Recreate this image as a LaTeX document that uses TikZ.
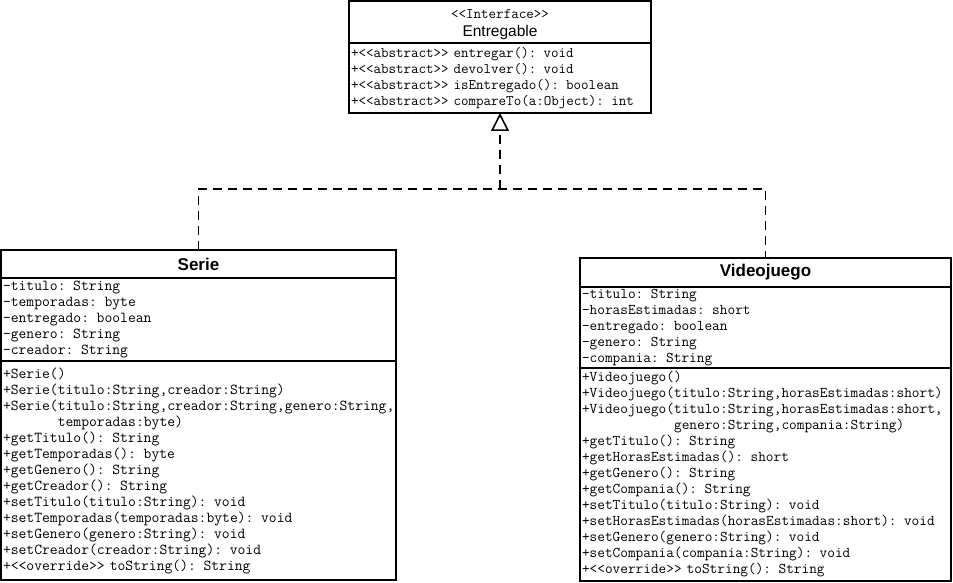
\documentclass[tikz,border=0pt]{standalone}
\usepackage{fontspec}
\setmainfont{Liberation Sans}
\usetikzlibrary{arrows.meta,positioning}

\begin{document}
\begin{tikzpicture}[x=1pt,y=-1pt,
  box/.style={draw,line width=1.6pt,outer sep=0pt,inner xsep=2pt,inner ysep=0pt,anchor=north west},
  title/.style={box,align=center,font=\fontsize{17}{20}\selectfont\bfseries},
  members/.style={box,align=left,font=\ttfamily\fontsize{#1}{16}\selectfont},
  members/.default=15.2,
  realize/.style={line width=1.6pt,dash pattern=on 9pt off 6pt}]
\useasboundingbox (0,0) rectangle (953,583);
% interface
\node[box,align=center,minimum width=302pt,minimum height=42pt] (entHead) at (349,1)
  {{\ttfamily\fontsize{14.6}{14}\selectfont\rule{0pt}{14pt}<<Interface>>}\\[6pt]{\fontsize{15.5}{17}\selectfont Entregable}};
\node[members=14.6,text width=298pt,minimum height=70pt] (entOps) at (entHead.south west)
  {+<<abstract>> entregar(): void\\+<<abstract>> devolver(): void\\+<<abstract>> isEntregado(): boolean\\+<<abstract>> compareTo(a:Object): int};
% Serie
\node[title,minimum width=395pt,minimum height=28pt] (serHead) at (1,250) {Serie};
\node[members,text width=391pt,minimum height=83pt] (serAttr) at (serHead.south west)
  {-titulo: String\\-temporadas: byte\\-entregado: boolean\\-genero: String\\-creador: String};
\node[members,text width=391pt,minimum height=219pt] (serOps) at (serAttr.south west)
  {+Serie()\\+Serie(titulo:String,creador:String)\\+Serie(titulo:String,creador:String,genero:String,\\
   \hphantom{+Serie(}temporadas:byte)\\+getTitulo(): String\\+getTemporadas(): byte\\+getGenero(): String\\
   +getCreador(): String\\+setTitulo(titulo:String): void\\+setTemporadas(temporadas:byte): void\\
   +setGenero(genero:String): void\\+setCreador(creador:String): void\\+<<override>> toString(): String};
% Videojuego
\node[title,minimum width=371pt,minimum height=29pt] (vidHead) at (580,258) {Videojuego};
\node[members=14.9,text width=367pt,minimum height=81pt] (vidAttr) at (vidHead.south west)
  {-titulo: String\\-horasEstimadas: short\\-entregado: boolean\\-genero: String\\-compania: String};
\node[members=14.9,text width=367pt,minimum height=213pt] (vidOps) at (vidAttr.south west)
  {+Videojuego()\\+Videojuego(titulo:String,horasEstimadas:short)\\+Videojuego(titulo:String,horasEstimadas:short,\\
   \hphantom{+Videojuego(}genero:String,compania:String)\\+getTitulo(): String\\+getHorasEstimadas(): short\\
   +getGenero(): String\\+getCompania(): String\\+setTitulo(titulo:String): void\\
   +setHorasEstimadas(horasEstimadas:short): void\\+setGenero(genero:String): void\\
   +setCompania(compania:String): void\\+<<override>> toString(): String};
% realizations
\coordinate (split) at (500,189);
\draw[realize] (serHead.north) |- (split) -| (vidHead.north);
\draw[realize,-{Triangle[open,length=18pt,width=18pt,fill=white]}] (split) -- (entOps.south);
\end{tikzpicture}
\end{document}
